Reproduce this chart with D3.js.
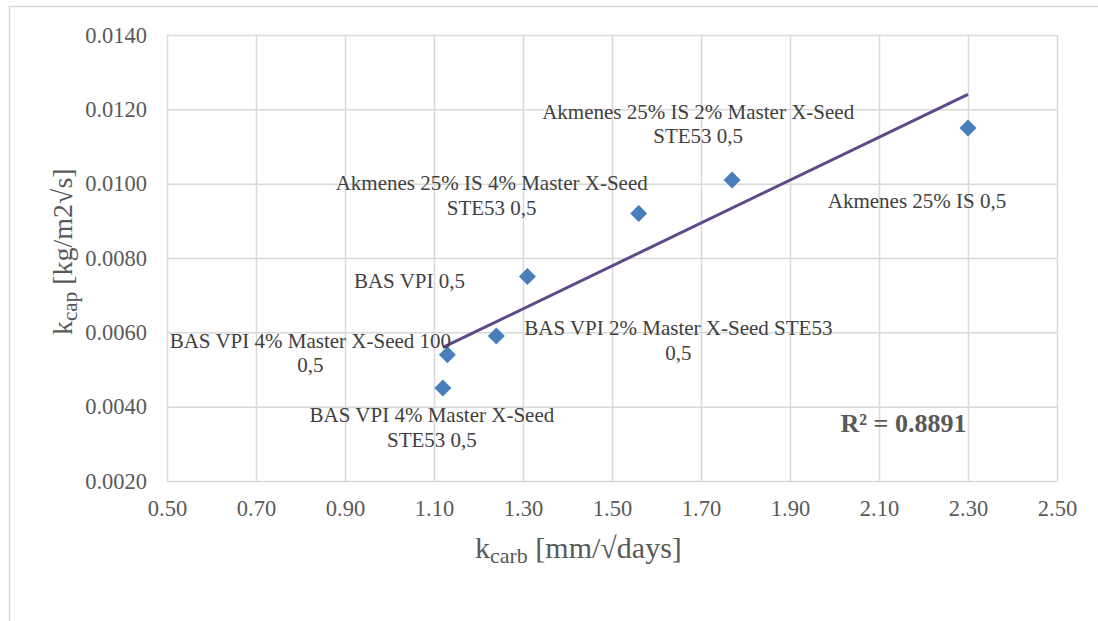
<!DOCTYPE html>
<html>
<head>
<meta charset="utf-8">
<script src="https://cdnjs.cloudflare.com/ajax/libs/d3/7.8.5/d3.min.js"></script>
<style>
  body { margin: 0; background: #fff; }
  text { font-family: "Liberation Serif", "Times New Roman", serif; }
</style>
</head>
<body>
<div id="chart"></div>
<script>
// data
var kCarb = [1.12, 1.13, 1.24, 1.31, 1.56, 1.77, 2.30];
var kCap = [0.0045, 0.0054, 0.0059, 0.0075, 0.0092, 0.0101, 0.0115];
var names = [
  'BAS VPI 4% Master X-Seed\nSTE53 0,5',
  'BAS VPI 4% Master X-Seed 100\n0,5',
  'BAS VPI 2% Master X-Seed STE53\n0,5',
  'BAS VPI 0,5',
  'Akmenes 25% IS 4% Master X-Seed\nSTE53 0,5',
  'Akmenes 25% IS 2% Master X-Seed\nSTE53 0,5',
  'Akmenes 25% IS 0,5'
];
var xTicks = [0.5, 0.7, 0.9, 1.1, 1.3, 1.5, 1.7, 1.9, 2.1, 2.3, 2.5];
var yTicks = [0.002, 0.004, 0.006, 0.008, 0.010, 0.012, 0.014];
var r2Text = 'R² = 0.8891';

// label placement (pixel offset of first line from the marker)
var labelDx = [-11, -137, 182, -118, -147, -34, -51];
var labelDy = [34, -7, -1, 11, -23, -61, 80];

var W = 1098, H = 621;
var margin = { top: 35, right: 41, bottom: 140, left: 167 };
var width = W - margin.left - margin.right,
    height = H - margin.top - margin.bottom;

var svg = d3.select('#chart').append('svg')
  .attr('width', W).attr('height', H)
  .style('display', 'block');

svg.append('rect').attr('width', W).attr('height', H).attr('fill', '#fff');
// outer chart frame
svg.append('rect')
  .attr('x', 9.5).attr('y', 6.5).attr('width', W + 20).attr('height', H + 20)
  .attr('fill', 'none').attr('stroke', '#d9d9d9').attr('stroke-width', 1.5);

var g = svg.append('g').attr('transform', 'translate(' + margin.left + ',' + margin.top + ')');

var x = d3.scaleLinear().domain([0.5, 2.5]).range([0, width]);
var y = d3.scaleLinear().domain([0.002, 0.014]).range([height, 0]);

var xAxis = d3.axisBottom(x).tickValues(xTicks).tickFormat(d3.format('.2f'))
  .tickSize(-height).tickPadding(19);
var yAxis = d3.axisLeft(y).tickValues(yTicks).tickFormat(d3.format('.4f'))
  .tickSize(-width).tickPadding(20);

var gx = g.append('g').attr('transform', 'translate(0,' + height + ')').call(xAxis);
var gy = g.append('g').call(yAxis);
[gx, gy].forEach(function (a) {
  a.select('.domain').remove();
  a.selectAll('.tick line').attr('stroke', '#d9d9d9').attr('stroke-width', 1.5);
  a.selectAll('.tick text').attr('fill', '#595959').style('font-size', '22.5px');
});

// linear trendline (least squares)
var n = kCarb.length;
var mx = d3.mean(kCarb), my = d3.mean(kCap);
var sxy = 0, sxx = 0;
for (var i = 0; i < n; i++) {
  sxy += (kCarb[i] - mx) * (kCap[i] - my);
  sxx += (kCarb[i] - mx) * (kCarb[i] - mx);
}
var slope = sxy / sxx, icpt = my - slope * mx;
var xr = d3.extent(kCarb);
g.append('line')
  .attr('x1', x(xr[0])).attr('y1', y(icpt + slope * xr[0]))
  .attr('x2', x(xr[1])).attr('y2', y(icpt + slope * xr[1]))
  .attr('stroke', '#5f4a87').attr('stroke-width', 3);

// markers
var diamond = 8.5;
g.selectAll('path.pt').data(kCarb).enter().append('path')
  .attr('class', 'pt')
  .attr('d', function (d, i) {
    var cx = x(d), cy = y(kCap[i]);
    return 'M' + cx + ',' + (cy - diamond) + 'L' + (cx + diamond) + ',' + cy +
      'L' + cx + ',' + (cy + diamond) + 'L' + (cx - diamond) + ',' + cy + 'Z';
  })
  .attr('fill', '#4a7ebb');

// data labels
var lbl = g.selectAll('text.lbl').data(names).enter().append('text')
  .attr('class', 'lbl')
  .attr('text-anchor', 'middle')
  .attr('fill', '#404040')
  .style('font-size', '21px')
  .attr('transform', function (d, i) {
    return 'translate(' + (x(kCarb[i]) + labelDx[i]) + ',' + (y(kCap[i]) + labelDy[i]) + ')';
  });
lbl.each(function (d) {
  var t = d3.select(this);
  d.split('\n').forEach(function (line, j) {
    t.append('tspan').attr('x', 0).attr('y', j * 24.5).text(line);
  });
});

// R squared
g.append('text')
  .attr('x', x(2.155)).attr('y', y(0.00332))
  .attr('text-anchor', 'middle')
  .attr('fill', '#595959')
  .style('font-size', '26px').style('font-weight', 'bold')
  .text(r2Text);

// axis titles
var xt = svg.append('text')
  .attr('x', 475).attr('y', 558)
  .attr('fill', '#595959').style('font-size', '30px');
xt.append('tspan').text('k');
xt.append('tspan').attr('dy', 5).style('font-size', '22px').text('carb');
xt.append('tspan').attr('dy', -5).text(' [mm/√days]');

var yt = svg.append('text')
  .attr('transform', 'translate(72,335) rotate(-90)')
  .attr('fill', '#595959').style('font-size', '28px');
yt.append('tspan').text('k');
yt.append('tspan').attr('dy', 5).style('font-size', '21px').text('cap');
yt.append('tspan').attr('dy', -5).text(' [kg/m2√s]');
</script>
</body>
</html>
